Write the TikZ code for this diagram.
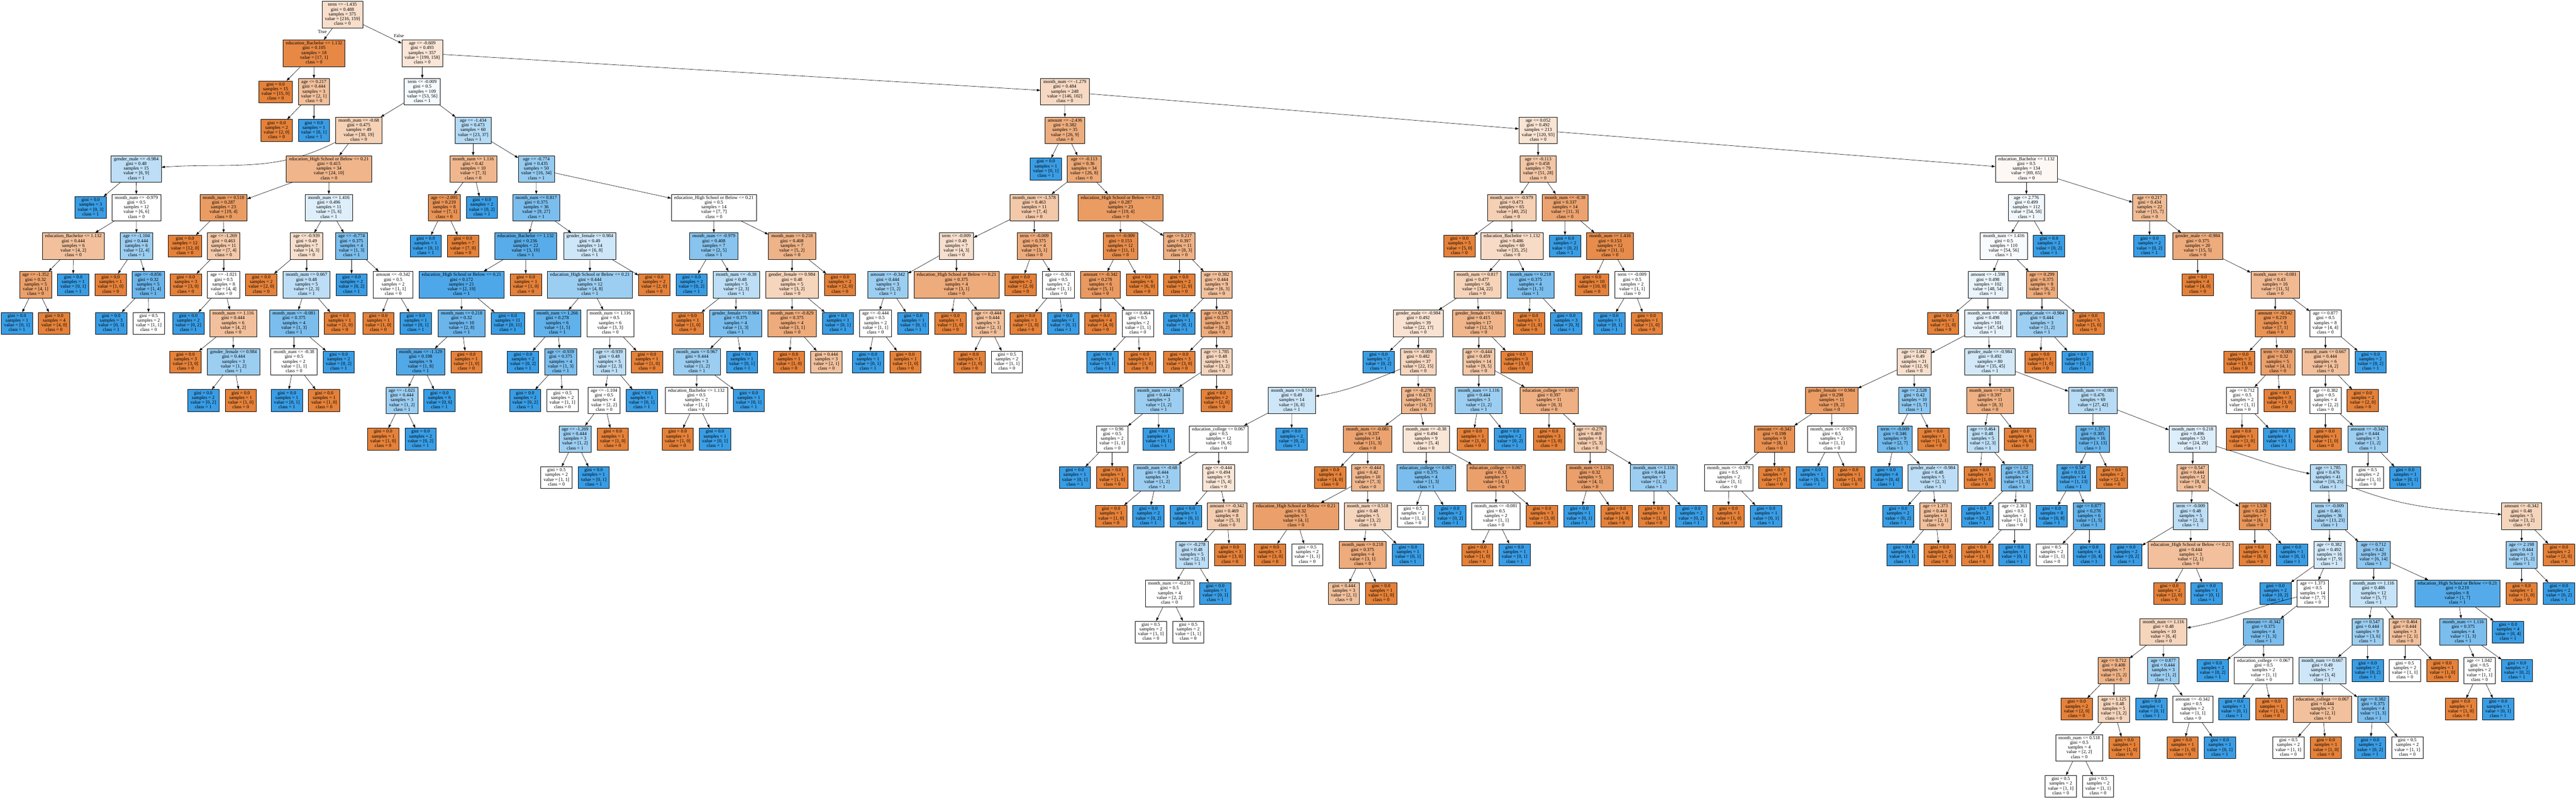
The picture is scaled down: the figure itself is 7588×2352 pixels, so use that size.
\documentclass[tikz,border=0pt]{standalone}
\usepackage{fontspec}
\setmainfont{Liberation Serif}
\usetikzlibrary{arrows.meta}
\definecolor{clszero}{RGB}{229,129,57}
\definecolor{clsone}{RGB}{57,157,229}
\tikzset{
  treenode/.style={draw=black,line width=1pt,rectangle,align=center,inner xsep=8.3pt,inner ysep=4pt,font=\fontsize{14}{14}\selectfont},
  treeedge/.style={draw=black,line width=0.9pt,-{Triangle[length=10pt,width=7pt]}},
  edgetag/.style={font=\fontsize{14}{14}\selectfont,inner sep=0pt}
}
\newcount\treecount
\newcommand\drawtreenode[7]{%
  \global\advance\treecount by 1
  \edef\thisname{t\the\treecount}%
  \pgfmathsetmacro\nodey{-(43+113.6*(\curdepth+1))}%
  \ifnum#6<#7
    \pgfmathsetmacro\pct{100*(#7-#6)/#7}\colorlet{nodefill}{clsone!\pct!white}\def\clsno{1}%
  \else
    \pgfmathsetmacro\pct{100*(#6-#7)/#6}\colorlet{nodefill}{clszero!\pct!white}\def\clsno{0}%
  \fi
  \node[treenode,fill=nodefill] (\thisname) at (#2,\nodey) {\rule{0pt}{10pt}#3gini = #4\\samples = #5\\value = [#6, #7]\\class = \clsno\rule[-4pt]{0pt}{4pt}};
  \ifx\curparent\empty\else
    \draw[treeedge] (\curparent) to[#1] (\thisname);
  \fi
}
\newcommand\nbr[8][]{%
  \drawtreenode{#1}{#2}{#3\\}{#4}{#5}{#6}{#7}%
  {\edef\curparent{\thisname}\pgfmathtruncatemacro\curdepth{\curdepth+1}#8}%
}
\newcommand\nlf[6][]{\drawtreenode{#1}{#2}{}{#3}{#4}{#5}{#6}}
\def\fmn#1{month\_num <= #1}
\def\fhs{education\_High School or Below <= 0.21}
\def\feb{education\_Bachelor <= 1.132}
\def\fec{education\_college <= 0.067}
\def\fgm{gender\_male <= -0.984}
\def\fgf{gender\_female <= 0.984}
\begin{document}
\begin{tikzpicture}[x=1pt,y=1pt]
\useasboundingbox (0,0) rectangle (7588,-2352);
\fill[white] (0,0) rectangle (7588,-2352);
\def\curparent{}
\def\curdepth{-1}
\nbr{1008.7}{term <= -1.435}{0.488}{375}{216}{159}{
 \nbr{925}{\feb}{0.105}{18}{17}{1}{
  \nlf{811.8}{0.0}{15}{15}{0}
  \nbr{924.5}{age <= 0.217}{0.444}{3}{2}{1}{
   \nlf{814.7}{0.0}{2}{2}{0}
   \nlf{924.5}{0.0}{1}{0}{1}
  }
 }
 \nbr{1243.8}{age <= -0.609}{0.493}{357}{199}{158}{
  \nbr{1243.8}{term <= -0.009}{0.5}{109}{53}{56}{
   \nbr{1056.8}{\fmn{-0.68}}{0.475}{49}{30}{19}{
    \nbr[out=207,in=4]{401.3}{\fgm}{0.48}{15}{6}{9}{
     \nlf{267}{0.0}{3}{0}{3}
     \nbr{401.7}{\fmn{-0.979}}{0.5}{12}{6}{6}{
      \nbr{216}{\feb}{0.444}{6}{4}{2}{
       \nbr{104.9}{age <= -1.352}{0.32}{5}{4}{1}{
        \nlf{49.8}{0.0}{1}{0}{1}
        \nlf{159.6}{0.0}{4}{4}{0}
       }
       \nlf{215.6}{0.0}{1}{0}{1}
      }
      \nbr{402.2}{age <= -1.104}{0.444}{6}{2}{4}{
       \nlf{325.9}{0.0}{1}{1}{0}
       \nbr{436.6}{age <= -0.856}{0.32}{5}{1}{4}{
        \nlf{327.5}{0.0}{3}{0}{3}
        \nlf{437.8}{0.5}{2}{1}{1}
       }
      }
     }
    }
    \nbr{968.9}{\fhs}{0.415}{34}{24}{10}{
     \nbr{658.4}{\fmn{0.518}}{0.287}{23}{19}{4}{
      \nlf{544.8}{0.0}{12}{12}{0}
      \nbr{658.8}{age <= -1.269}{0.463}{11}{7}{4}{
       \nlf{547.3}{0.0}{3}{3}{0}
       \nbr{658.8}{age <= -1.021}{0.5}{8}{4}{4}{
        \nlf{554.7}{0.0}{2}{0}{2}
        \nbr{686.6}{\fmn{1.116}}{0.444}{6}{4}{2}{
         \nlf{546.4}{0.0}{3}{3}{0}
         \nbr{687.8}{\fgf}{0.444}{3}{1}{2}{
          \nlf{598.7}{0.0}{2}{0}{2}
          \nlf{709}{0.0}{1}{1}{0}
         }
        }
       }
      }
     }
     \nbr{968.5}{\fmn{1.416}}{0.496}{11}{5}{6}{
      \nbr{903}{age <= -0.939}{0.49}{7}{4}{3}{
       \nlf{769.5}{0.0}{2}{2}{0}
       \nbr{903}{\fmn{0.667}}{0.48}{5}{2}{3}{
        \nbr{866}{\fmn{-0.081}}{0.375}{4}{1}{3}{
         \nbr{866}{\fmn{-0.38}}{0.5}{2}{1}{1}{
          \nlf{845}{0.0}{1}{0}{1}
          \nlf{954.8}{0.0}{1}{1}{0}
         }
         \nlf{997.5}{0.0}{2}{0}{2}
        }
        \nlf{1000.8}{0.0}{1}{1}{0}
       }
      }
      \nbr{1035.6}{age <= -0.774}{0.375}{4}{1}{3}{
       \nlf{1035.6}{0.0}{2}{0}{2}
       \nbr{1158}{amount <= -0.342}{0.5}{2}{1}{1}{
        \nlf{1114.4}{0.0}{1}{1}{0}
        \nlf{1224.7}{0.0}{1}{0}{1}
       }
      }
     }
    }
   }
   \nbr{1393.7}{age <= -1.434}{0.473}{60}{23}{37}{
    \nbr{1393.7}{\fmn{1.116}}{0.42}{10}{7}{3}{
     \nbr{1308.7}{age <= -2.095}{0.219}{8}{7}{1}{
      \nlf{1254}{0.0}{1}{0}{1}
      \nlf{1363.8}{0.0}{7}{7}{0}
     }
     \nlf{1419.4}{0.0}{2}{0}{2}
    }
    \nbr{1579.9}{age <= -0.774}{0.435}{50}{16}{34}{
     \nbr{1579.4}{\fmn{0.817}}{0.375}{36}{9}{27}{
      \nbr{1548.3}{\feb}{0.236}{22}{3}{19}{
       \nbr{1359.4}{\fhs}{0.172}{21}{2}{19}{
        \nbr{1359.7}{\fmn{0.218}}{0.32}{10}{2}{8}{
         \nbr{1239}{\fmn{-1.129}}{0.198}{9}{1}{8}{
          \nbr{1184}{age <= -1.021}{0.444}{3}{1}{2}{
           \nlf{1128.5}{0.0}{1}{1}{0}
           \nlf{1238.8}{0.0}{2}{0}{2}
          }
          \nlf{1294.3}{0.0}{6}{0}{6}
         }
         \nlf{1373.8}{0.0}{1}{1}{0}
        }
        \nlf{1495.7}{0.0}{11}{0}{11}
       }
       \nlf{1548.8}{0.0}{1}{1}{0}
      }
      \nbr{1737.4}{\fgf}{0.49}{14}{6}{8}{
       \nbr{1737.8}{\fhs}{0.444}{12}{4}{8}{
        \nbr{1641.6}{\fmn{1.266}}{0.278}{6}{1}{5}{
         \nlf{1540.5}{0.0}{2}{0}{2}
         \nbr{1651.6}{age <= -0.939}{0.375}{4}{1}{3}{
          \nlf{1546.7}{0.0}{2}{0}{2}
          \nlf{1656.6}{0.5}{2}{1}{1}
         }
        }
        \nbr{1797.5}{\fmn{1.116}}{0.5}{6}{3}{3}{
         \nbr{1795}{age <= -0.939}{0.48}{5}{2}{3}{
          \nbr{1779.3}{age <= -1.104}{0.5}{4}{2}{2}{
           \nbr{1693.9}{age <= -1.269}{0.444}{3}{1}{2}{
            \nlf{1639.1}{0.5}{2}{1}{1}
            \nlf{1748.6}{0.0}{1}{0}{1}
           }
           \nlf{1805}{0.0}{1}{1}{0}
          }
          \nlf{1890.4}{0.0}{1}{0}{1}
         }
         \nlf{1905.7}{0.0}{1}{1}{0}
        }
       }
       \nlf{1926.9}{0.0}{2}{2}{0}
      }
     }
     \nbr{2103}{\fhs}{0.5}{14}{7}{7}{
      \nbr{2102.6}{\fmn{-0.979}}{0.408}{7}{2}{5}{
       \nlf{2037.1}{0.0}{2}{0}{2}
       \nbr{2168.6}{\fmn{-0.38}}{0.48}{5}{2}{3}{
        \nlf{2025.5}{0.0}{1}{1}{0}
        \nbr{2166.9}{\fgf}{0.375}{4}{1}{3}{
         \nbr{2052.9}{\fmn{0.967}}{0.444}{3}{1}{2}{
          \nbr{2051.2}{\feb}{0.5}{2}{1}{1}{
           \nlf{1996.1}{0.0}{1}{1}{0}
           \nlf{2106}{0.0}{1}{0}{1}
          }
          \nlf{2205.5}{0.0}{1}{0}{1}
         }
         \nlf{2185.6}{0.0}{1}{0}{1}
        }
       }
      }
      \nbr{2332.8}{\fmn{0.218}}{0.408}{7}{5}{2}{
       \nbr{2332.8}{\fgf}{0.48}{5}{3}{2}{
        \nbr{2333.2}{\fmn{-0.829}}{0.375}{4}{3}{1}{
         \nlf{2324}{0.0}{1}{1}{0}
         \nlf{2434.3}{0.444}{3}{2}{1}
        }
        \nlf{2468.3}{0.0}{1}{0}{1}
       }
       \nlf{2474.1}{0.0}{2}{2}{0}
      }
     }
    }
   }
  }
  \nbr{3136.5}{\fmn{-1.279}}{0.484}{248}{146}{102}{
   \nbr{3136.9}{amount <= -2.436}{0.382}{35}{26}{9}{
    \nlf{3080.7}{0.0}{1}{0}{1}
    \nbr{3193.5}{age <= -0.113}{0.36}{34}{26}{8}{
     \nbr{3046.4}{\fmn{-1.578}}{0.463}{11}{7}{4}{
      \nbr{2817.2}{term <= -0.009}{0.49}{7}{4}{3}{
       \nbr{2615}{amount <= -0.342}{0.444}{3}{1}{2}{
        \nbr{2579}{age <= -0.444}{0.5}{2}{1}{1}{
         \nlf{2557}{0.0}{1}{0}{1}
         \nlf{2667}{0.0}{1}{1}{0}
        }
        \nlf{2689.7}{0.0}{1}{0}{1}
       }
       \nbr{2817.6}{\fhs}{0.375}{4}{3}{1}{
        \nlf{2799.7}{0.0}{1}{1}{0}
        \nbr{2910.5}{age <= -0.444}{0.444}{3}{2}{1}{
         \nlf{2855.9}{0.0}{1}{1}{0}
         \nlf{2965.9}{0.5}{2}{1}{1}
        }
       }
      }
      \nbr{3046.8}{term <= -0.009}{0.375}{4}{3}{1}{
       \nlf{3006.6}{0.0}{2}{2}{0}
       \nbr{3117.8}{age <= -0.361}{0.5}{2}{1}{1}{
        \nlf{3021.7}{0.0}{1}{1}{0}
        \nlf{3131.7}{0.0}{1}{0}{1}
       }
      }
     }
     \nbr{3300.7}{\fhs}{0.287}{23}{19}{4}{
      \nbr{3300.3}{term <= -0.009}{0.153}{12}{11}{1}{
       \nbr{3241.7}{amount <= -0.342}{0.278}{6}{5}{1}{
        \nlf{3241.7}{0.0}{4}{4}{0}
        \nbr{3351.8}{age <= 0.464}{0.5}{2}{1}{1}{
         \nlf{3247.7}{0.0}{1}{0}{1}
         \nlf{3357.7}{0.0}{1}{1}{0}
        }
       }
       \nlf{3363.7}{0.0}{6}{6}{0}
      }
      \nbr{3473.7}{age <= 0.217}{0.397}{11}{8}{3}{
       \nlf{3473.7}{0.0}{2}{2}{0}
       \nbr{3583.7}{age <= 0.382}{0.444}{9}{6}{3}{
        \nlf{3473.7}{0.0}{1}{0}{1}
        \nbr{3583.7}{age <= 0.547}{0.375}{8}{6}{2}{
         \nlf{3473.7}{0.0}{3}{3}{0}
         \nbr{3583.7}{age <= 1.785}{0.48}{5}{3}{2}{
          \nbr{3413.1}{\fmn{-1.578}}{0.444}{3}{1}{2}{
           \nbr{3276}{age <= 0.96}{0.5}{2}{1}{1}{
            \nlf{3166}{0.0}{1}{0}{1}
            \nlf{3276}{0.0}{1}{1}{0}
           }
           \nlf{3412.7}{0.0}{1}{0}{1}
          }
          \nlf{3583.7}{0.0}{2}{2}{0}
         }
        }
       }
      }
     }
    }
   }
   \nbr{4530.8}{age <= 0.052}{0.492}{213}{120}{93}{
    \nbr{4530.8}{age <= -0.113}{0.458}{79}{51}{28}{
     \nbr{4452.7}{\fmn{-0.979}}{0.473}{65}{40}{25}{
      \nlf{4298.8}{0.0}{5}{5}{0}
      \nbr{4453.5}{\feb}{0.486}{60}{35}{25}{
       \nbr{4351.8}{\fmn{0.817}}{0.477}{56}{34}{22}{
        \nbr{4177.6}{\fgm}{0.492}{39}{22}{17}{
         \nlf{4060.5}{0.0}{2}{0}{2}
         \nbr{4177.6}{term <= -0.009}{0.482}{37}{22}{15}{
          \nbr[out=202,in=10]{3805}{\fmn{0.518}}{0.49}{14}{6}{8}{
           \nbr{3589.7}{\fec}{0.5}{12}{6}{6}{
            \nbr{3408}{\fmn{-0.68}}{0.444}{3}{1}{2}{
             \nlf{3272.8}{0.0}{1}{1}{0}
             \nlf{3382.8}{0.0}{2}{0}{2}
            }
            \nbr{3589.7}{age <= -0.444}{0.494}{9}{5}{4}{
             \nlf{3492.9}{0.0}{1}{0}{1}
             \nbr{3614.4}{amount <= -0.342}{0.469}{8}{5}{3}{
              \nbr{3511.6}{age <= -0.278}{0.48}{5}{2}{3}{
               \nbr{3445}{\fmn{-0.231}}{0.5}{4}{2}{2}{
                \nlf{3390}{0.5}{2}{1}{1}
                \nlf{3500}{0.5}{2}{1}{1}
               }
               \nlf{3579.7}{0.0}{1}{0}{1}
              }
              \nlf{3622.8}{0.0}{3}{3}{0}
             }
            }
           }
           \nlf{3804.5}{0.0}{2}{0}{2}
          }
          \nbr{4178}{age <= -0.278}{0.423}{23}{16}{7}{
           \nbr{4028.6}{\fmn{-0.081}}{0.337}{14}{11}{3}{
            \nlf{3917.8}{0.0}{4}{4}{0}
            \nbr{4029}{age <= -0.444}{0.42}{10}{7}{3}{
             \nbr{3817}{\fhs}{0.32}{5}{4}{1}{
              \nlf{3740.8}{0.0}{3}{3}{0}
              \nlf{3850.7}{0.5}{2}{1}{1}
             }
             \nbr{4028.6}{\fmn{0.518}}{0.48}{5}{3}{2}{
              \nbr{4013.8}{\fmn{0.218}}{0.375}{4}{3}{1}{
               \nlf{3958.4}{0.444}{3}{2}{1}
               \nlf{4068.4}{0.0}{1}{1}{0}
              }
              \nlf{4147.3}{0.0}{1}{0}{1}
             }
            }
           }
           \nbr{4200.8}{\fmn{-0.38}}{0.494}{9}{5}{4}{
            \nbr{4200.8}{\fec}{0.375}{4}{1}{3}{
             \nlf{4161.7}{0.5}{2}{1}{1}
             \nlf{4271.7}{0.0}{2}{0}{2}
            }
            \nbr{4406.8}{\fec}{0.32}{5}{4}{1}{
             \nbr{4406.4}{\fmn{-0.081}}{0.5}{2}{1}{1}{
              \nlf{4351.4}{0.0}{1}{1}{0}
              \nlf{4461.4}{0.0}{1}{0}{1}
             }
             \nlf{4542}{0.0}{3}{3}{0}
            }
           }
          }
         }
        }
        \nbr{4355.8}{\fgf}{0.415}{17}{12}{5}{
         \nbr{4355.8}{age <= -0.444}{0.459}{14}{9}{5}{
          \nbr{4355.8}{\fmn{1.116}}{0.444}{3}{1}{2}{
           \nlf{4337.9}{0.0}{1}{1}{0}
           \nlf{4447.9}{0.0}{2}{0}{2}
          }
          \nbr{4563.1}{\fec}{0.397}{11}{8}{3}{
           \nlf{4562.7}{0.0}{3}{3}{0}
           \nbr{4683.5}{age <= -0.278}{0.469}{8}{5}{3}{
            \nbr{4683.5}{\fmn{1.116}}{0.32}{5}{4}{1}{
             \nlf{4652}{0.0}{1}{0}{1}
             \nlf{4762}{0.0}{4}{4}{0}
            }
            \nbr{4871.6}{\fmn{1.116}}{0.444}{3}{1}{2}{
             \nlf{4872}{0.0}{1}{1}{0}
             \nlf{4982}{0.0}{2}{0}{2}
            }
           }
          }
         }
         \nlf{4467}{0.0}{3}{3}{0}
        }
       }
       \nbr{4508}{\fmn{0.218}}{0.375}{4}{1}{3}{
        \nlf{4503.7}{0.0}{1}{1}{0}
        \nlf{4613.7}{0.0}{3}{0}{3}
       }
      }
     }
     \nbr{4610.1}{\fmn{-0.38}}{0.337}{14}{11}{3}{
      \nlf{4609.7}{0.0}{2}{0}{2}
      \nbr{4742.5}{\fmn{1.416}}{0.153}{12}{11}{1}{
       \nlf{4689.4}{0.0}{10}{10}{0}
       \nbr{4807.8}{term <= -0.009}{0.5}{2}{1}{1}{
        \nlf{4740.5}{0.0}{1}{0}{1}
        \nlf{4850.5}{0.0}{1}{1}{0}
       }
      }
     }
    }
    \nbr{5969}{\feb}{0.5}{134}{69}{65}{
     \nbr{5969}{age <= 2.776}{0.499}{112}{54}{58}{
      \nbr{5902.4}{\fmn{1.416}}{0.5}{110}{54}{56}{
       \nbr{5855.7}{amount <= -1.598}{0.498}{102}{48}{54}{
        \nlf{5723.4}{0.0}{1}{1}{0}
        \nbr{5855.7}{\fmn{-0.68}}{0.498}{101}{47}{54}{
         \nbr{5638.5}{age <= 1.042}{0.49}{21}{12}{9}{
          \nbr{5395.4}{\fgf}{0.298}{11}{9}{2}{
           \nbr{5226.8}{amount <= -0.342}{0.198}{9}{8}{1}{
            \nbr{5092}{\fmn{-0.979}}{0.5}{2}{1}{1}{
             \nlf{5091.6}{0.0}{1}{1}{0}
             \nlf{5202}{0.0}{1}{0}{1}
            }
            \nlf{5226.8}{0.0}{7}{7}{0}
           }
           \nbr{5395.8}{\fmn{-0.979}}{0.5}{2}{1}{1}{
            \nlf{5336.8}{0.0}{1}{0}{1}
            \nlf{5446.8}{0.0}{1}{1}{0}
           }
          }
          \nbr{5638.9}{age <= 2.528}{0.42}{10}{3}{7}{
           \nbr{5581.9}{term <= -0.009}{0.346}{9}{2}{7}{
            \nlf{5556.8}{0.0}{4}{0}{4}
            \nbr{5693.9}{\fgm}{0.48}{5}{2}{3}{
             \nlf{5591.1}{0.0}{2}{0}{2}
             \nbr{5701}{age <= 1.373}{0.444}{3}{2}{1}{
              \nlf{5603.8}{0.0}{1}{0}{1}
              \nlf{5713.8}{0.0}{2}{2}{0}
             }
            }
           }
           \nlf{5695.5}{0.0}{1}{1}{0}
          }
         }
         \nbr{5861.7}{\fgm}{0.492}{80}{35}{45}{
          \nbr{5861.7}{\fmn{0.218}}{0.397}{11}{8}{3}{
           \nbr{5840.6}{age <= 0.464}{0.48}{5}{2}{3}{
            \nlf{5831}{0.0}{1}{1}{0}
            \nbr{5941}{age <= 1.62}{0.375}{4}{1}{3}{
             \nlf{5823.9}{0.0}{2}{0}{2}
             \nbr{5933.9}{age <= 2.363}{0.5}{2}{1}{1}{
              \nlf{5823.9}{0.0}{1}{1}{0}
              \nlf{5933.9}{0.0}{1}{0}{1}
             }
            }
           }
           \nlf{5950.6}{0.0}{6}{6}{0}
          }
          \nbr{6165}{\fmn{-0.081}}{0.476}{69}{27}{42}{
           \nbr{6164.6}{age <= 1.373}{0.305}{16}{3}{13}{
            \nbr{6108}{age <= 0.547}{0.133}{14}{1}{13}{
             \nlf{6043.5}{0.0}{8}{0}{8}
             \nbr{6153.9}{age <= 0.877}{0.278}{6}{1}{5}{
              \nlf{6043.9}{0.5}{2}{1}{1}
              \nlf{6153.9}{0.0}{4}{0}{4}
             }
            }
            \nlf{6220.9}{0.0}{2}{2}{0}
           }
           \nbr{6458.6}{\fmn{0.218}}{0.496}{53}{24}{29}{
            \nbr{6458.6}{age <= 0.547}{0.444}{12}{8}{4}{
             \nbr{6453}{term <= -0.009}{0.48}{5}{2}{3}{
              \nlf{6263.1}{0.0}{2}{0}{2}
              \nbr{6452.9}{\fhs}{0.444}{3}{2}{1}{
               \nlf{6389.9}{0.0}{2}{2}{0}
               \nlf{6499.6}{0.0}{1}{0}{1}
              }
             }
             \nbr{6641.7}{age <= 1.538}{0.245}{7}{6}{1}{
              \nlf{6641.7}{0.0}{6}{6}{0}
              \nlf{6751.5}{0.0}{1}{0}{1}
             }
            }
            \nbr[out=-17,in=168]{6858}{age <= 1.785}{0.476}{41}{16}{25}{
             \nbr{6862}{term <= -0.009}{0.461}{36}{13}{23}{
              \nbr{6861.6}{age <= 0.382}{0.492}{16}{7}{9}{
               \nlf{6702.5}{0.0}{2}{0}{2}
               \nbr{6812.3}{age <= 1.373}{0.5}{14}{7}{7}{
                \nbr[out=193,in=10]{6372.6}{\fmn{1.116}}{0.48}{10}{6}{4}{
                 \nbr{6226.4}{age <= 0.712}{0.408}{7}{5}{2}{
                  \nlf{6117.2}{0.0}{2}{2}{0}
                  \nbr{6226.4}{age <= 1.125}{0.48}{5}{3}{2}{
                   \nbr{6124.8}{\fmn{0.518}}{0.5}{4}{2}{2}{
                    \nlf{6070.2}{0.5}{2}{1}{1}
                    \nlf{6180.2}{0.5}{2}{1}{1}
                   }
                   \nlf{6257.5}{0.0}{1}{1}{0}
                  }
                 }
                 \nbr{6372.4}{age <= 0.877}{0.444}{3}{1}{2}{
                  \nlf{6337.6}{0.0}{1}{0}{1}
                  \nbr{6459}{amount <= -0.342}{0.5}{2}{1}{1}{
                   \nlf{6429}{0.0}{1}{1}{0}
                   \nlf{6538.7}{0.0}{1}{0}{1}
                  }
                 }
                }
                \nbr{6667.4}{amount <= -0.342}{0.375}{4}{1}{3}{
                 \nlf{6517.8}{0.0}{2}{0}{2}
                 \nbr{6667.8}{\fec}{0.5}{2}{1}{1}{
                  \nlf{6580.9}{0.0}{1}{0}{1}
                  \nlf{6690.7}{0.0}{1}{1}{0}
                 }
                }
               }
              }
              \nbr{6991.5}{age <= 0.712}{0.42}{20}{6}{14}{
               \nbr{6991.5}{\fmn{1.116}}{0.486}{12}{5}{7}{
                \nbr{6973.7}{age <= 0.547}{0.444}{9}{3}{6}{
                 \nbr{6840.7}{\fmn{0.667}}{0.49}{7}{3}{4}{
                  \nbr{6841.1}{\fec}{0.444}{3}{2}{1}{
                   \nlf{6740.8}{0.5}{2}{1}{1}
                   \nlf{6851}{0.0}{1}{1}{0}
                  }
                  \nbr{6990.3}{age <= 0.382}{0.375}{4}{1}{3}{
                   \nlf{6981.2}{0.0}{2}{0}{2}
                   \nlf{7091}{0.5}{2}{1}{1}
                  }
                 }
                 \nlf{6974.1}{0.0}{2}{0}{2}
                }
                \nbr{7083.8}{age <= 0.464}{0.444}{3}{2}{1}{
                 \nlf{7083.8}{0.5}{2}{1}{1}
                 \nlf{7194.4}{0.0}{1}{1}{0}
                }
               }
               \nbr{7238.6}{\fhs}{0.219}{8}{1}{7}{
                \nbr{7255.6}{\fmn{1.116}}{0.375}{4}{1}{3}{
                 \nbr{7303.7}{age <= 1.042}{0.5}{2}{1}{1}{
                  \nlf{7248.9}{0.0}{1}{1}{0}
                  \nlf{7358.6}{0.0}{1}{0}{1}
                 }
                 \nlf{7413.9}{0.0}{2}{0}{2}
                }
                \nlf{7387.8}{0.0}{4}{0}{4}
               }
              }
             }
             \nbr[out=-22,in=175]{7427.7}{amount <= -0.342}{0.48}{5}{3}{2}{
              \nbr{7427.7}{age <= 2.198}{0.444}{3}{1}{2}{
               \nlf{7427.7}{0.0}{1}{1}{0}
               \nlf{7537.8}{0.0}{2}{0}{2}
              }
              \nlf{7537.8}{0.0}{2}{2}{0}
             }
            }
           }
          }
         }
        }
       }
       \nbr{6014.8}{age <= 0.299}{0.375}{8}{6}{2}{
        \nbr{6014.8}{\fgm}{0.444}{3}{1}{2}{
         \nlf{6010}{0.0}{1}{1}{0}
         \nlf{6119.6}{0.0}{2}{0}{2}
        }
        \nlf{6151.5}{0.0}{5}{5}{0}
       }
      }
      \nlf{6035.5}{0.0}{2}{0}{2}
     }
     \nbr{6332}{age <= 0.217}{0.434}{22}{15}{7}{
      \nlf{6331.5}{0.0}{2}{0}{2}
      \nbr{6473.6}{\fgm}{0.375}{20}{15}{5}{
       \nlf{6473.6}{0.0}{4}{4}{0}
       \nbr{6701.7}{\fmn{-0.081}}{0.43}{16}{11}{5}{
        \nbr{6701.7}{amount <= -0.342}{0.219}{8}{7}{1}{
         \nlf{6596}{0.0}{3}{3}{0}
         \nbr{6709.6}{term <= -0.009}{0.32}{5}{4}{1}{
          \nbr{6604.6}{age <= 0.712}{0.5}{2}{1}{1}{
           \nlf{6603.8}{0.0}{1}{1}{0}
           \nlf{6713.6}{0.0}{1}{0}{1}
          }
          \nlf{6714.8}{0.0}{3}{3}{0}
         }
        }
        \nbr{6849.8}{age <= 0.877}{0.5}{8}{4}{4}{
         \nbr{6849.8}{\fmn{0.667}}{0.444}{6}{4}{2}{
          \nbr{6849.8}{age <= 0.382}{0.5}{4}{2}{2}{
           \nlf{6849.8}{0.0}{1}{1}{0}
           \nbr{6974.5}{amount <= -0.342}{0.444}{3}{1}{2}{
            \nlf{6974.5}{0.5}{2}{1}{1}
            \nlf{7084.6}{0.0}{1}{0}{1}
           }
          }
          \nlf{6959.9}{0.0}{2}{2}{0}
         }
         \nlf{6982.8}{0.0}{2}{0}{2}
        }
       }
      }
     }
    }
   }
  }
 }
}
\node[edgetag] (truetag) at (949.4,-93.4) {True};
\node[edgetag] (falsetag) at (1175,-104.6) {False};
\end{tikzpicture}
\end{document}
